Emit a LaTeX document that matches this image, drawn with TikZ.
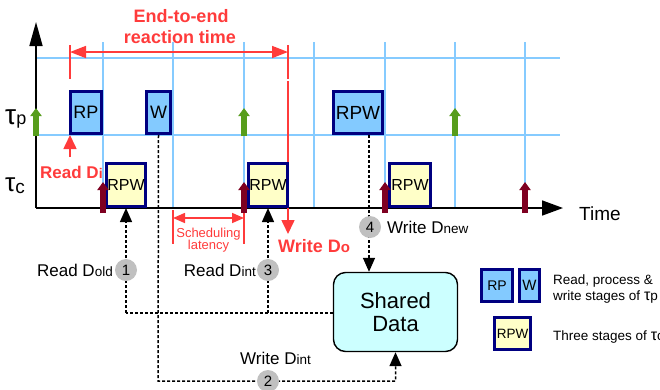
\documentclass[tikz,border=0pt]{standalone}
\usepackage{fontspec}
\setmainfont{Liberation Sans}
\usetikzlibrary{arrows.meta}
\definecolor{gridblue}{HTML}{86CBFF}
\definecolor{pfill}{HTML}{83CAFF}
\definecolor{navy}{HTML}{000080}
\definecolor{cfill}{HTML}{FFFFC8}
\definecolor{redc}{HTML}{FF3B3B}
\definecolor{relgreen}{HTML}{579D1C}
\definecolor{relred}{HTML}{7E0021}
\definecolor{sharedfill}{HTML}{CCFFFF}
\definecolor{circgray}{HTML}{C0C0C0}
\newcommand{\fs}[1]{\fontsize{#1}{#1}\selectfont}
\newcommand{\sbs}[1]{{\fs{13.5}#1}}
\begin{document}
\begin{tikzpicture}[x=1pt,y=-1pt,
  gridline/.style={draw=gridblue, line width=1.6pt},
  pbox/.style={draw=navy, fill=pfill, line width=2.6pt, inner sep=0pt, font=\fs{18}},
  cbox/.style={draw=navy, fill=cfill, line width=2.6pt, inner sep=0pt, font=\fs{16}},
  dashline/.style={line width=1.5pt, dash pattern=on 3pt off 2pt},
  blk/.style={-{Triangle[width=12pt,length=14pt]}},
  redline/.style={draw=redc, line width=1.6pt},
  redtip/.style={-{Triangle[width=13pt,length=14pt]}},
  relp/.style={draw=relgreen, line width=5.5pt, -{Triangle[width=11pt,length=8pt]}},
  relc/.style={draw=relred, line width=5.5pt, -{Triangle[width=11pt,length=8pt]}},
  num/.style={circle, fill=circgray, minimum size=22pt, inner sep=0pt, font=\fs{15}},
  lbl/.style={font=\fs{17}, inner sep=0pt},
  redlbl/.style={font=\bfseries\fs{18}, text=redc, inner sep=0pt},
  leg/.style={font=\fs{13.5}, inner sep=0pt},
]
\useasboundingbox (0,0) rectangle (660,389);

% grid
\foreach \y in {58,135} \draw[gridline] (36,\y) -- (560,\y);
\foreach \x in {103,173,244,314,385,455,525} \draw[gridline] (\x,42) -- (\x,208);

% axes
\coordinate (origin) at (36,208);
\coordinate (ytop) at (36,22);
\coordinate (xend) at (563,208);
\draw[line width=1.6pt, -{Triangle[width=13pt,length=24pt]}] (origin) -- (ytop);
\draw[line width=1.6pt, -{Triangle[width=15pt,length=21pt]}] (origin) -- (xend);
\node[font=\fs{19}, inner sep=0pt, anchor=base west] (time) at (579,220) {Time};

% task labels
\node[inner sep=0pt, anchor=base west] (taup) at (5,124) {{\fs{28}τ}{\fs{18}p}};
\node[inner sep=0pt, anchor=base west] (tauc) at (5,191) {{\fs{26}τ}{\fs{19}\raisebox{-2pt}{c}}};

% end-to-end
\node[redlbl, align=center, anchor=base] (e2e) at (181,22) {End-to-end};
\node[redlbl, anchor=base] (e2e2) at (180,43) {reaction time};
\coordinate (e2el) at (70,52);
\coordinate (e2er) at (288,52);
\draw[redline] (70,45) -- (70,79);
\draw[redline] (288,45) -- (288,79);
\draw[redline, {Triangle[width=12pt,length=16pt]}-{Triangle[width=12pt,length=16pt]}] (e2el) -- (e2er);
\coordinate (wdo0) at (288,81);
\coordinate (wdo1) at (288,234);
\draw[redline, redtip] (wdo0) -- (wdo1);

% read Di
\coordinate (rdi0) at (70,157);
\coordinate (rdi1) at (70,135);
\draw[redline, redtip] (rdi0) -- (rdi1);
\node[redlbl, font=\bfseries\fs{17}, anchor=base west] (readdi) at (40,178) {Read D{\fs{14}i}};
\node[redlbl, anchor=base west] (writedo) at (278,252) {Write D{\fs{15}o}};

% scheduling latency
\draw[redline] (173,210) -- (173,244);
\draw[redline] (244,210) -- (244,244);
\coordinate (sl0) at (173,218);
\coordinate (sl1) at (244,218);
\draw[redline, {Triangle[width=10pt,length=12pt]}-{Triangle[width=10pt,length=12pt]}] (sl0) -- (sl1);
\node[text=redc, font=\fs{13}, align=center, inner sep=0pt, anchor=base] (sched) at (208.5,237) {Scheduling};
\node[text=redc, font=\fs{13}, inner sep=0pt, anchor=base] (lat) at (208.5,249) {latency};

% release arrows
\foreach \x in {36,244,455} \draw[relp] (\x,136) -- (\x,108);

% boxes tau_p
\node[pbox, minimum width=31.5pt, minimum height=42.5pt] (rp) at (86,112.5) {RP};
\node[pbox, minimum width=24.5pt, minimum height=42.5pt] (w) at (158.5,112.5) {W};
\node[pbox, minimum width=49.5pt, minimum height=42.5pt, font=\fs{19}] (rpwp) at (358,112.5) {RPW};

% boxes tau_c
\node[cbox, minimum width=39.5pt, minimum height=43.5pt] (c1) at (126,185) {RPW};
\node[cbox, minimum width=39.5pt, minimum height=43.5pt] (c2) at (268,185) {RPW};
\node[cbox, minimum width=41.5pt, minimum height=43.5pt] (c3) at (410,185) {RPW};

\foreach \x in {103,244,385,525} \draw[relc] (\x,213) -- (\x,182);

% shared data
\node[draw=black, fill=sharedfill, rounded corners=12pt, line width=1.4pt,
      minimum width=124pt, minimum height=79pt, align=center, font=\fs{22}] (shared) at (395.5,312) {Shared\\[1pt]Data};

% dashed connectors
\coordinate (b2) at (158,381);
\draw[dashline, blk] (w.south) -- (b2) -| (shared.south);
\coordinate (j1) at (126,313);
\coordinate (j3) at (268,313);
\draw[dashline] (shared.west |- j1) -- (j1);
\draw[dashline, blk] (j1) -- (c1.south);
\draw[dashline, blk] (j3) -- (c2.south);
\coordinate (n4top) at (369,135);
\draw[dashline, blk] (n4top) -- (n4top |- shared.north);

% numbered circles
\node[num] (n1) at (126,270) {1};
\node[num] (n3) at (268,270) {3};
\node[num] (n2) at (268,381) {2};
\node[num] (n4) at (370,227) {4};

\node[lbl, anchor=base east] (rdold) at (113,276) {Read D\sbs{old}};
\node[lbl, anchor=base east] (rdint) at (256,276) {Read D\sbs{int}};
\node[lbl, anchor=base west] (wdint) at (240,364) {Write D\sbs{int}};
\node[lbl, anchor=base west] (wdnew) at (387,233) {Write D\sbs{new}};

% legend
\node[pbox, minimum width=31.5pt, minimum height=32.5pt, font=\fs{14}] (lrp) at (497,285.5) {RP};
\node[pbox, minimum width=20.5pt, minimum height=32.5pt, font=\fs{15}] (lw) at (529.5,285.5) {W};
\node[cbox, minimum width=36.5pt, minimum height=32.5pt, font=\fs{13.5}] (lrpw) at (512.5,333.5) {RPW};
\node[leg, anchor=base west] (lt1) at (553,284) {Read, process \&};
\node[leg, anchor=base west] (lt2) at (553,300) {write stages of {\fs{16}τ}p};
\node[leg, anchor=base west] (lt3) at (553,340) {Three stages of {\fs{16}τ}c};
\end{tikzpicture}
\end{document}
